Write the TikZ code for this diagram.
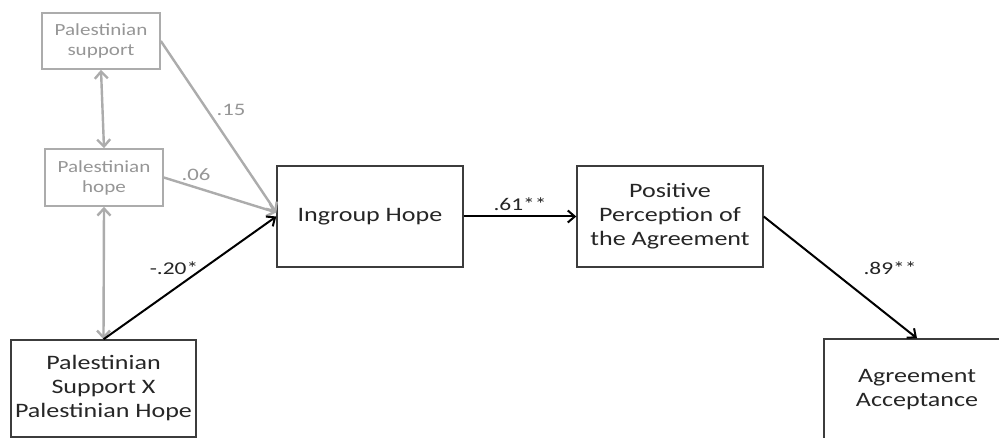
\documentclass[tikz,border=0pt]{standalone}
\usepackage{fontspec}
\setmainfont[FakeStretch=1.27]{Carlito}
\newfontfamily\grayfont[FakeStretch=1.24]{Carlito}
\newfontfamily\labfont[FakeStretch=1.3]{Carlito}
\usetikzlibrary{arrows.meta}
\definecolor{lightg}{RGB}{172,172,172}
\definecolor{txtg}{RGB}{150,150,150}
\definecolor{boxb}{RGB}{60,60,60}
\tikzset{
  mainbox/.style={draw=boxb, line width=1.4pt, fill=white, align=center, inner sep=0pt,
    font=\fontsize{20.5}{24}\selectfont, text=black!85},
  graybox/.style={draw=lightg, line width=1.6pt, fill=white, align=center, inner sep=0pt,
    font=\grayfont\fontsize{17}{20}\selectfont, text=txtg},
  blackarr/.style={draw=black, line width=2pt, -{Straight Barb[length=7pt,width=12pt,line width=2pt]}},
  grayarr/.style={draw=lightg, line width=2.4pt, -{Straight Barb[length=7pt,width=13pt,line width=2.4pt]}},
  graydbl/.style={draw=lightg, line width=2.4pt, {Straight Barb[length=7pt,width=13pt,line width=2.4pt]}-{Straight Barb[length=7pt,width=13pt,line width=2.4pt]}},
  blab/.style={font=\labfont\fontsize{18}{20}\selectfont, text=black!85, inner sep=0pt},
  glab/.style={font=\labfont\fontsize{17.5}{20}\selectfont, text=txtg, inner sep=0pt}
}
\begin{document}
\begin{tikzpicture}[x=1pt,y=-1pt]
\useasboundingbox (0,0) rectangle (999,438);
\fill[white] (0,0) rectangle (999,438);
\clip (0,0) rectangle (999,438);
\node[graybox, minimum width=118pt, minimum height=56pt] (sup) at (101,41) {Palestinian\\support};
\node[graybox, minimum width=118pt, minimum height=57pt] (hop) at (104,177.5) {Palestinian\\hope};
\node[mainbox, minimum width=185pt, minimum height=97pt] (int) at (103.5,388.5) {Palestinian\\Support X\\Palestinian Hope};
\node[mainbox, minimum width=186pt, minimum height=101pt] (ing) at (370,216.5) {Ingroup Hope};
\node[mainbox, minimum width=186pt, minimum height=101pt] (pos) at (670,216.5) {Positive\\Perception of\\the Agreement};
\node[mainbox, minimum width=186pt, minimum height=101pt] (agr) at (917,389.5) {Agreement\\Acceptance};

\draw[graydbl] (sup.south) -- (hop.north);
\draw[graydbl] (hop.south) -- (int.north);
\draw[grayarr] (sup.east) -- ([yshift=4pt]ing.west);
\draw[grayarr] (hop.east) -- ([yshift=4pt]ing.west);
\draw[blackarr] (int.north) -- (ing.west);
\draw[blackarr] (ing.east) -- (pos.west);
\draw[blackarr] (pos.east) -- (agr.north);

\node[glab] (l15) at (231,110) {.15};
\node[glab] (l06) at (196,175) {.06};
\node[blab] (l20) at (174,268) {-.20*};
\node[blab] (l61) at (520,204) {.61**};
\node[blab] (l89) at (890,268) {.89**};
\end{tikzpicture}
\end{document}
